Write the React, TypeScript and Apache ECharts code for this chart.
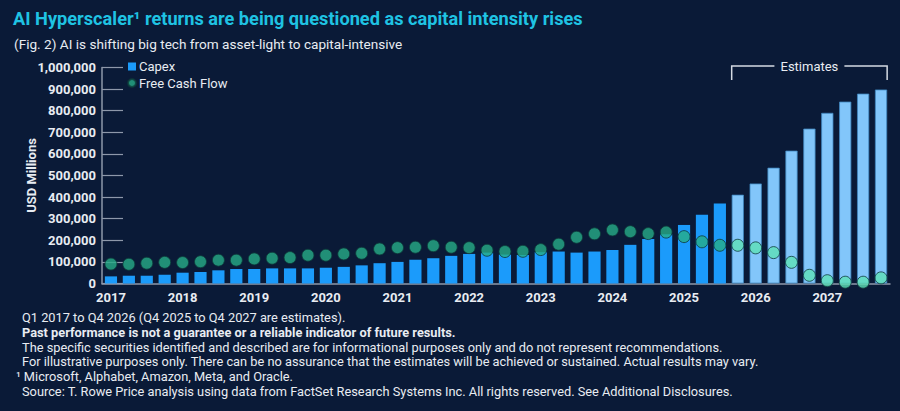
import React, { useEffect, useRef } from "react";
import * as echarts from "echarts";

const years = ["2017", "2018", "2019", "2020", "2021", "2022", "2023", "2024", "2025", "2026", "2027"];
const quarters = years.flatMap((y) => ["Q1", "Q2", "Q3", "Q4"].map((q) => `${q} ${y}`));

const capex = [
  33000, 36000, 36000, 41000, 50000, 53000, 61000, 67000,
  67000, 70000, 70000, 70000, 73000, 77000, 84000, 94000,
  100000, 110000, 117000, 128000, 137000, 143000, 134000, 132000,
  145000, 148000, 143000, 148000, 155000, 179000, 206000, 228000,
  271000, 318000, 370000, 411000, 463000, 536000, 615000, 717000,
  790000, 842000, 879000, 898000,
];

const freeCashFlow = [
  90000, 89000, 94000, 98000, 97000, 101000, 108000, 108000,
  114000, 117000, 120000, 131000, 131000, 137000, 140000, 160000,
  166000, 168000, 175000, 168000, 166000, 154000, 148000, 149000,
  157000, 182000, 214000, 230000, 248000, 240000, 231000, 238000,
  217000, 193000, 177000, 177000, 165000, 143000, 98000, 38000,
  13000, 6000, 6000, 26000,
];

const firstEstimateIndex = 35; // Q4 2025

const yTicks = [0, 100000, 200000, 300000, 400000, 500000, 600000, 700000, 800000, 900000, 1000000];

const footnotes = [
  { text: "Q1 2017 to Q4 2026 (Q4 2025 to Q4 2027 are estimates).", bold: false },
  { text: "Past performance is not a guarantee or a reliable indicator of future results.", bold: true },
  { text: "The specific securities identified and described are for informational purposes only and do not represent recommendations.", bold: false },
  { text: "For illustrative purposes only. There can be no assurance that the estimates will be achieved or sustained. Actual results may vary.", bold: false },
  { text: "¹ Microsoft, Alphabet, Amazon, Meta, and Oracle.", bold: false, sup: true },
  { text: "Source: T. Rowe Price analysis using data from FactSet Research Systems Inc. All rights reserved. See Additional Disclosures.", bold: false },
];

const BG = "#0a1a37";
const TEXT = "#e8ecf2";
const CAPEX = "#1b9bfb";
const CAPEX_EST = "#82c6fa";
const FCF = "#27ad87";
const FCF_EST = "#5ee0b7";
const FONT = "Roboto, 'Noto Sans', sans-serif";

export default function App() {
  const ref = useRef<HTMLDivElement>(null);

  useEffect(() => {
    if (!ref.current) return;
    const chart = echarts.init(ref.current, null, { renderer: "svg" });

    const footGraphics = footnotes.map((f, i) => ({
      type: "text",
      left: f.sup ? 16 : 22,
      top: 311 + i * 14.8,
      style: {
        text: f.text,
        fill: TEXT,
        font: `${f.bold ? "bold " : ""}12.8px ${FONT}`,
      },
    }));

    const option: any = {
      animation: false,
      backgroundColor: BG,
      textStyle: { fontFamily: FONT },
      title: [
        {
          text: "AI Hyperscaler¹ returns are being questioned as capital intensity rises",
          left: 13,
          top: 9,
          padding: 0,
          textStyle: { color: "#1fc3e3", fontSize: 18.2, fontWeight: "bold", fontFamily: FONT },
        },
        {
          text: "(Fig. 2) AI is shifting big tech from asset-light to capital-intensive",
          left: 14,
          top: 37,
          padding: 0,
          textStyle: { color: TEXT, fontSize: 13.6, fontWeight: "normal", fontFamily: FONT },
        },
      ],
      legend: {
        orient: "vertical",
        left: 127,
        top: 60,
        padding: 0,
        itemGap: 3.5,
        itemWidth: 8,
        itemHeight: 8,
        textStyle: { color: TEXT, fontSize: 13, fontFamily: FONT, padding: [0, 0, 0, -2] },
        data: [
          { name: "Capex", icon: "rect", itemStyle: { color: CAPEX } },
          { name: "Free Cash Flow", icon: "circle", itemStyle: { color: FCF } },
        ],
      },
      grid: { left: 102, right: 10, top: 67.5, bottom: 127.5, containLabel: false },
      xAxis: {
        type: "category",
        data: quarters,
        boundaryGap: true,
        axisLine: { lineStyle: { color: "#8e98aa", width: 1.5 } },
        axisTick: { show: false },
        axisLabel: {
          interval: 3,
          color: TEXT,
          fontSize: 13,
          fontWeight: "bold",
          margin: 7,
          formatter: (v: string) => v.split(" ")[1],
        },
      },
      yAxis: {
        type: "value",
        min: 0,
        max: 1000000,
        interval: 100000,
        name: "USD Millions",
        nameLocation: "middle",
        nameGap: 64,
        nameMoveOverlap: false,
        nameTextStyle: { color: TEXT, fontSize: 13, fontWeight: "bold" },
        axisLine: { show: true, lineStyle: { color: "#8e98aa", width: 1.5 } },
        axisTick: { show: true, inside: true, length: 21, lineStyle: { color: "#8e98aa", width: 1.2 } },
        splitLine: { show: false },
        axisLabel: {
          color: TEXT,
          fontSize: 13,
          fontWeight: "bold",
          margin: 6,
          customValues: yTicks,
          formatter: (v: number) => v.toLocaleString("en-US"),
        },
      },
      series: [
        {
          name: "Capex",
          type: "bar",
          barWidth: "68%",
          itemStyle: { color: CAPEX },
          data: capex.map((v, i) =>
            i >= firstEstimateIndex
              ? { value: v, itemStyle: { color: CAPEX_EST, borderColor: "#3f86bf", borderWidth: 0.8 } }
              : v
          ),
          z: 2,
        },
        {
          name: "Free Cash Flow",
          type: "scatter",
          symbol: "circle",
          symbolSize: 12,
          itemStyle: { color: FCF, borderColor: "#0c3a3a", borderWidth: 1 },
          data: freeCashFlow.map((v, i) =>
            i >= firstEstimateIndex ? { value: v, itemStyle: { color: FCF_EST } } : v
          ),
          z: 3,
        },
      ],
      graphic: footGraphics,
    };

    chart.setOption(option);

    // Estimates bracket positioned from the category axis
    const c0 = chart.convertToPixel({ xAxisIndex: 0 }, firstEstimateIndex) as number;
    const c1 = chart.convertToPixel({ xAxisIndex: 0 }, quarters.length - 1) as number;
    const c1b = chart.convertToPixel({ xAxisIndex: 0 }, quarters.length - 2) as number;
    const band = c1 - c1b;
    const half = (band * 0.68) / 2;
    const xL = c0 - half;
    const xR = c1 + half;
    const xm = (xL + xR) / 2;
    const yTop = 66;
    const yBot = 80;
    const gap = 35;
    const lineStyle = { stroke: "#d5dae3", lineWidth: 1.5 };

    chart.setOption({
      graphic: [
        ...footGraphics,
        { type: "polyline", shape: { points: [[xL, yBot], [xL, yTop], [xm - gap, yTop]] }, style: { ...lineStyle, fill: null } },
        { type: "polyline", shape: { points: [[xm + gap, yTop], [xR, yTop], [xR, yBot]] }, style: { ...lineStyle, fill: null } },
        {
          type: "text",
          x: xm,
          y: yTop,
          style: { text: "Estimates", fill: TEXT, font: `13px ${FONT}`, align: "center", verticalAlign: "middle" },
        },
      ],
    });

    return () => chart.dispose();
  }, []);

  return <div ref={ref} style={{ position: "absolute", left: 0, top: 0, width: 900, height: 411 }} />;
}
